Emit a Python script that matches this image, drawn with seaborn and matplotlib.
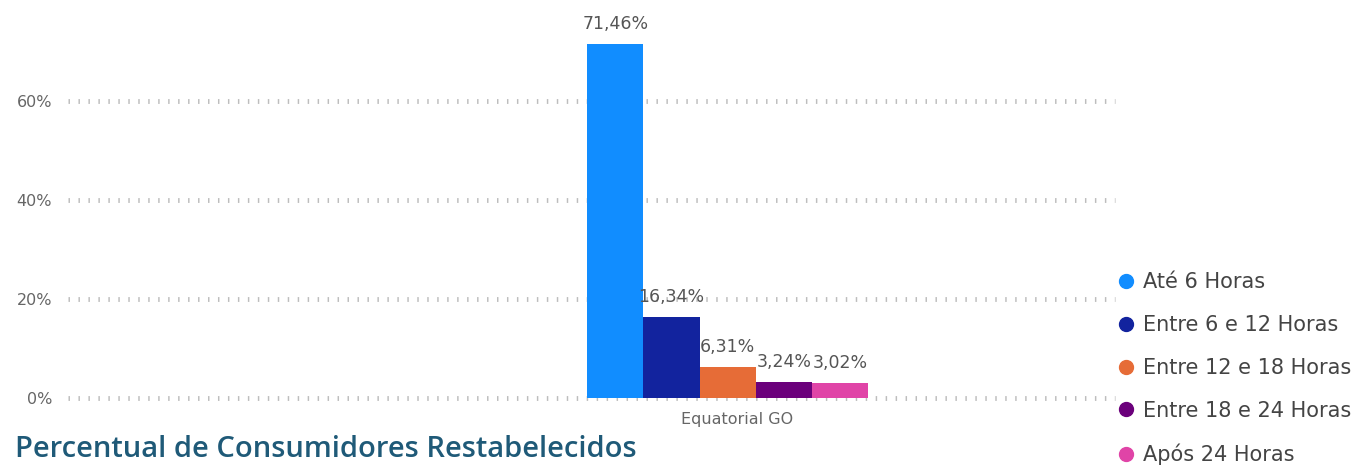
import pandas as pd
import seaborn as sns
import matplotlib.pyplot as plt
from matplotlib.lines import Line2D
from matplotlib.transforms import ScaledTranslation

# values
empresa = ["Equatorial GO"]
faixas = ["Até 6 Horas", "Entre 6 e 12 Horas", "Entre 12 e 18 Horas",
          "Entre 18 e 24 Horas", "Após 24 Horas"]
percentuais = [71.46, 16.34, 6.31, 3.24, 3.02]
cores = ["#118DFF", "#12239E", "#E66C37", "#6B007B", "#E044A7"]
yticks = [0, 20, 40, 60]

df = pd.DataFrame({"empresa": empresa * len(faixas),
                   "faixa": faixas,
                   "pct": percentuais})

sns.set_style("white")
plt.rcParams["font.family"] = ["DejaVu Sans"]

fig = plt.figure(figsize=(13.62, 4.65), dpi=100)
ax = fig.add_axes([68 / 1362, 67 / 465, 1047 / 1362, 398 / 465])

sns.barplot(data=df, x="empresa", y="pct", hue="faixa", hue_order=faixas,
            palette=cores, width=0.268, saturation=1, legend=False,
            linewidth=0, ax=ax)

ax.set_xlim(-0.63, 0.37)
ax.set_ylim(0, 80.4)
ax.set_yticks(yticks)
ax.set_yticklabels([f"{v}%" for v in yticks], color="#666666", fontsize=11.5)
ax.tick_params(axis="x", colors="#666666", labelsize=11.5, length=0, pad=10)
ax.tick_params(axis="y", length=0, pad=11.5)
ax.set_xlabel("")
ax.set_ylabel("")
for s in ax.spines.values():
    s.set_visible(False)

# nudge category label slightly right, as in the reference
for lbl in ax.get_xticklabels():
    lbl.set_transform(lbl.get_transform() + ScaledTranslation(0.09, 0, fig.dpi_scale_trans))

# Power BI style dotted gridlines (short vertical ticks)
ax.yaxis.grid(True, color="#BDBDBD", linestyle=(0, (0.3, 1.75)), linewidth=3.5)
ax.set_axisbelow(True)
for gl in ax.get_ygridlines():
    gl.set_clip_on(False)

for cont, v in zip(ax.containers, percentuais):
    ax.bar_label(cont, labels=[f"{v:.2f}%".replace(".", ",")],
                 color="#555555", fontsize=12.5, padding=8)

handles = [Line2D([0], [0], marker="o", linestyle="", markersize=10,
                  markerfacecolor=c, markeredgecolor=c) for c in cores]
fig.legend(handles, faixas, loc="upper left",
           bbox_to_anchor=(1116 / 1362, 1 - 272 / 465),
           frameon=False, fontsize=15, labelcolor="#444444",
           handletextpad=0.3, labelspacing=1.1, handlelength=1.0,
           borderaxespad=0, borderpad=0)

fig.text(15 / 1362, 8 / 465, "Percentual de Consumidores Restabelecidos",
         family=["Open Sans", "DejaVu Sans"], fontsize=21,
         fontweight="semibold", color="#1F5A78", va="baseline", ha="left")

fig.savefig("out.png", dpi=100)
